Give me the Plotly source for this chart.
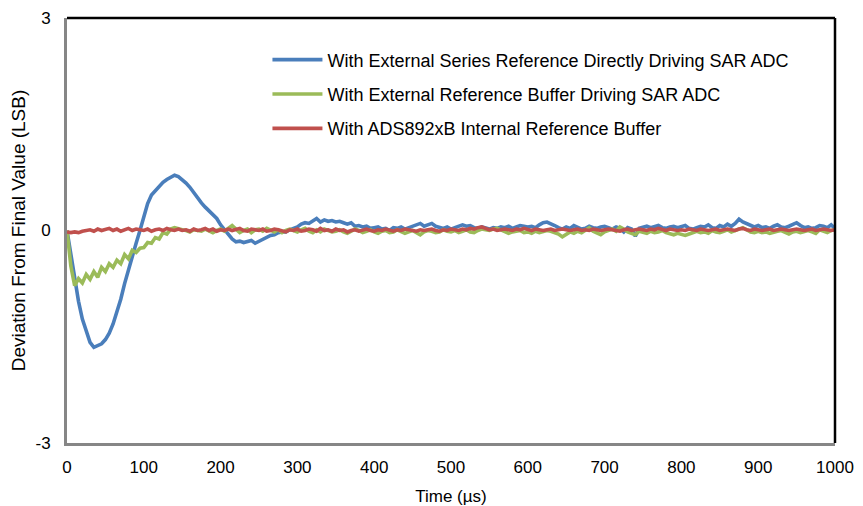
import plotly.graph_objects as go

time_us = list(range(0, 1001, 5))

blue_series = [
    0.00, -0.35, -0.70, -1.00, -1.25, -1.43, -1.58, -1.65, -1.62, -1.60,
    -1.54, -1.45, -1.32, -1.15, -0.97, -0.75, -0.55, -0.37, -0.18, 0.00,
    0.20, 0.38, 0.50, 0.56, 0.62, 0.68, 0.72, 0.75, 0.78, 0.76,
    0.72, 0.67, 0.61, 0.53, 0.45, 0.39, 0.33, 0.28, 0.22, 0.17,
    0.08, 0.01, -0.07, -0.12, -0.16, -0.15, -0.17, -0.16, -0.14, -0.18,
    -0.15, -0.12, -0.10, -0.07, -0.06, -0.03, -0.02, -0.02, 0.01, 0.03,
    0.05, 0.09, 0.11, 0.10, 0.14, 0.17, 0.12, 0.15, 0.13, 0.14,
    0.12, 0.13, 0.11, 0.09, 0.11, 0.06, 0.07, 0.05, 0.06, 0.03,
    0.04, 0.05, 0.02, 0.03, 0.00, 0.04, 0.03, 0.05, 0.02, 0.04,
    0.05, 0.07, 0.10, 0.06, 0.08, 0.10, 0.06, 0.04, 0.03, 0.05,
    0.02, 0.04, 0.06, 0.08, 0.06, 0.07, 0.04, 0.03, 0.05, 0.03,
    0.02, 0.04, 0.03, 0.05, 0.04, 0.06, 0.03, 0.05, 0.07, 0.06,
    0.05, 0.06, 0.04, 0.08, 0.11, 0.12, 0.10, 0.07, 0.04, 0.02,
    0.05, 0.03, 0.07, 0.04, 0.02, 0.03, 0.06, 0.04, 0.03, 0.05,
    0.06, 0.04, 0.02, 0.05, 0.03, -0.02, 0.04, 0.02, -0.08, 0.03,
    0.05, 0.06, 0.04, 0.05, 0.07, 0.04, 0.03, 0.05, 0.06, 0.04,
    0.05, 0.07, 0.03, 0.02, 0.04, 0.06, 0.05, 0.08, 0.04, 0.03,
    0.07, 0.05, 0.09, 0.06, 0.10, 0.16, 0.12, 0.10, 0.08, 0.05,
    0.07, 0.04, 0.05, 0.03, 0.06, 0.08, 0.05, 0.04, 0.06, 0.08,
    0.11, 0.07, 0.04, 0.05, 0.03, 0.04, 0.07, 0.06, 0.04, 0.08,
    0.03,
]

green_series = [
    0.00, -0.50, -0.78, -0.68, -0.74, -0.62, -0.69, -0.58, -0.66, -0.52,
    -0.58, -0.47, -0.52, -0.42, -0.47, -0.34, -0.40, -0.28, -0.31, -0.25,
    -0.24, -0.17, -0.18, -0.10, -0.12, -0.03, -0.05, 0.02, 0.04, 0.02,
    0.01, 0.00, -0.02, 0.01, 0.00, -0.01, 0.02, -0.01, -0.03, 0.00,
    0.02, -0.01, 0.03, 0.07, 0.02, -0.03, 0.00, 0.02, -0.03, 0.01,
    0.02, -0.01, 0.03, 0.00, -0.02, 0.01, -0.03, 0.00, 0.02, 0.00,
    -0.02, 0.01, 0.03, -0.01, -0.03, 0.01, -0.02, 0.02, 0.00, -0.02,
    -0.01, 0.01, -0.02, -0.04, -0.01, 0.02, 0.00, -0.03, -0.01, 0.01,
    -0.02, -0.04, -0.01, 0.00, -0.03, -0.02, 0.01, -0.01, -0.04, -0.02,
    0.00, -0.03, -0.06, -0.02, 0.00, -0.01, -0.03, -0.02, 0.01, -0.01,
    -0.02, 0.00, -0.03, -0.01, 0.01, -0.02, -0.03, 0.00, 0.02, 0.01,
    0.00, 0.02, 0.03, 0.01, -0.01, -0.04, -0.02, -0.01, 0.00, -0.03,
    -0.02, -0.04, -0.01, -0.03, -0.02, 0.00, -0.01, -0.03, -0.05, -0.09,
    -0.05, -0.02, -0.04, -0.01, -0.03, 0.01, 0.04, -0.01, -0.03, -0.06,
    -0.02, 0.00, 0.02, -0.01, 0.05, 0.02, -0.02, -0.04, -0.06, -0.01,
    -0.02, -0.04, -0.01, -0.03, -0.02, 0.00, -0.03, -0.05, -0.06, -0.04,
    -0.06, -0.07, -0.05, -0.03, -0.01, -0.03, -0.02, -0.04, 0.00, -0.02,
    -0.03, -0.01, 0.01, -0.02, 0.00, 0.02, 0.04, 0.01, -0.02, -0.03,
    -0.01, -0.03, -0.02, -0.04, -0.02, -0.01, 0.00, -0.03, -0.05, -0.02,
    -0.01, -0.03, -0.02, 0.00, -0.02, -0.04, 0.01, -0.01, -0.03, 0.00,
    0.01,
]

red_series = [
    -0.02, -0.03, -0.02, -0.03, -0.01, 0.00, 0.01, -0.01, 0.02, 0.00,
    0.01, 0.03, 0.00, 0.02, -0.01, 0.01, 0.03, 0.00, 0.02, 0.01,
    0.00, 0.02, -0.01, 0.01, 0.02, 0.00, 0.03, 0.01, 0.00, 0.02,
    0.00, 0.01, -0.01, 0.02, 0.00, 0.01, 0.03, 0.00, 0.02, -0.01,
    0.01, 0.00, 0.02, 0.00, 0.01, 0.03, 0.00, -0.01, 0.02, 0.01,
    0.00, 0.02, -0.01, 0.00, 0.02, 0.01, 0.00, -0.02, 0.01, 0.00,
    0.02, -0.01, 0.00, 0.02, 0.01, -0.01, 0.03, 0.00, 0.01, -0.01,
    0.02, 0.00, 0.01, -0.02, 0.00, 0.01, -0.01, 0.00, 0.02, 0.00,
    -0.01, 0.01, 0.00, 0.02, 0.00, -0.01, 0.01, 0.00, 0.02, 0.01,
    0.00, -0.01, 0.01, 0.00, 0.01, 0.02, 0.00, -0.01, 0.01, 0.00,
    0.02, 0.01, 0.00, 0.02, 0.01, 0.03, 0.02, 0.04, 0.05, 0.03,
    0.01, 0.02, 0.00, 0.01, 0.02, 0.01, 0.00, 0.02, 0.01, 0.03,
    0.01, 0.00, 0.02, 0.01, 0.00, 0.01, 0.02, 0.00, 0.01, 0.02,
    0.01, 0.00, 0.01, 0.02, 0.00, 0.01, 0.00, 0.02, 0.01, 0.00,
    0.01, 0.02, 0.01, 0.00, -0.01, 0.01, 0.02, 0.00, 0.01, 0.02,
    0.01, 0.00, 0.02, 0.01, 0.03, 0.01, 0.00, 0.02, 0.01, 0.00,
    0.01, 0.00, 0.02, 0.01, 0.00, 0.02, 0.01, 0.00, 0.01, 0.02,
    0.00, 0.01, 0.02, 0.01, 0.00, 0.02, 0.03, 0.01, 0.00, 0.02,
    0.01, 0.00, 0.01, 0.02, 0.00, 0.01, 0.02, 0.01, 0.00, 0.01,
    0.02, 0.01, 0.00, 0.01, 0.02, 0.00, 0.01, 0.02, 0.01, 0.00,
    0.01,
]

series_names = [
    "With External Series Reference Directly Driving SAR ADC",
    "With External Reference Buffer Driving SAR ADC",
    "With ADS892xB Internal Reference Buffer",
]
series_colors = ["#4A7EBB", "#9BBB59", "#C0504D"]

x_ticks = list(range(0, 1001, 100))
y_ticks = [-3, 0, 3]

fig = go.Figure()
for name, vals, col in zip(series_names, [blue_series, green_series, red_series], series_colors):
    fig.add_trace(go.Scatter(
        x=time_us, y=vals, mode="lines", name=name, legendgroup=name,
        line=dict(color=col, width=3.6),
    ))

font_family = "Liberation Sans, Arial, sans-serif"
fs = 17

fig.update_layout(
    width=855, height=498,
    margin=dict(l=59, r=28, t=10, b=63, autoexpand=False),
    paper_bgcolor="white", plot_bgcolor="white",
    font=dict(family=font_family, size=fs, color="#000000"),
    showlegend=True,
    legend=dict(
        x=0.261, y=0.945, xanchor="left", yanchor="top",
        bgcolor="rgba(0,0,0,0)", borderwidth=0,
        font=dict(family=font_family, size=18, color="#000000"),
        tracegroupgap=8, itemwidth=50,
    ),
    xaxis=dict(
        range=[0, 1000], tickmode="array", tickvals=x_ticks,
        ticktext=[str(v) for v in x_ticks],
        showgrid=False, zeroline=False, automargin=False,
        showline=True, linecolor="#868686", linewidth=3,
        ticks="", ticklabelstandoff=7,
        tickfont=dict(size=fs),
        title=dict(text="Time (µs)", font=dict(size=fs), standoff=16),
    ),
    yaxis=dict(
        range=[-3, 3], tickmode="array", tickvals=y_ticks,
        ticktext=[str(v) for v in y_ticks],
        showgrid=False, zeroline=False, automargin=False,
        showline=True, linecolor="#868686", linewidth=3,
        ticks="", ticklabelstandoff=10,
        tickfont=dict(size=fs),
        title=dict(text="Deviation From Final Value (LSB)", font=dict(size=19), standoff=8),
    ),
    shapes=[
        dict(type="line", xref="paper", yref="paper", x0=0, x1=1, y0=1, y1=1,
             line=dict(color="#000000", width=2.5)),
        dict(type="line", xref="paper", yref="paper", x0=1, x1=1, y0=0, y1=1,
             line=dict(color="#000000", width=2.5)),
    ],
)

fig.write_html("out.html")
